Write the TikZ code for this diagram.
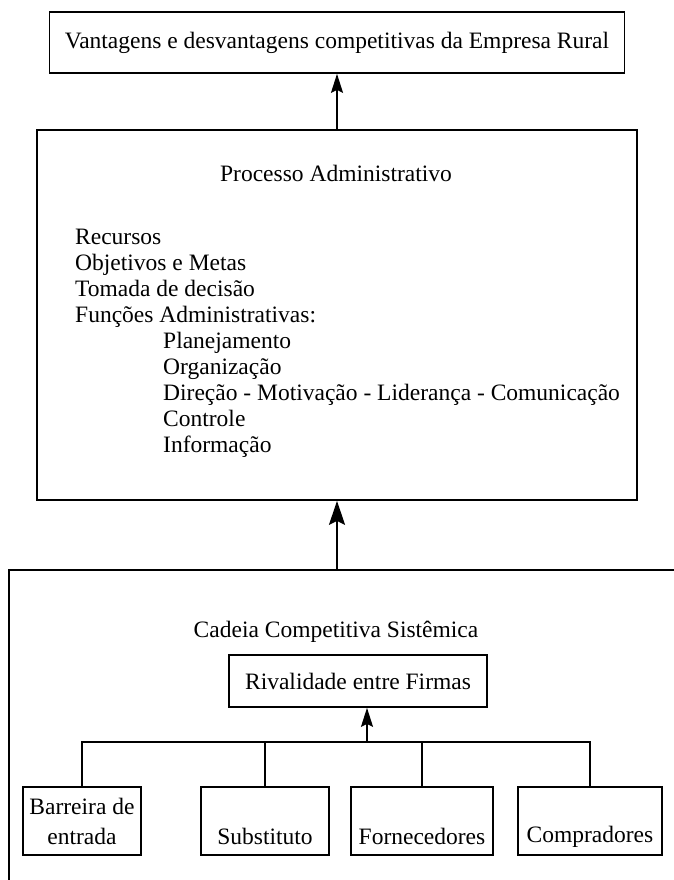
\documentclass[tikz,border=0pt]{standalone}
\usepackage{fontspec}
\setmainfont{Liberation Serif}
\usetikzlibrary{arrows.meta}
\begin{document}
\begin{tikzpicture}[x=1pt,y=-1pt,
  font=\fontsize{23.5}{26}\selectfont,
  box/.style={draw, line width=1.7pt, inner sep=0pt, align=center},
  txt/.style={anchor=base west, inner sep=0pt},
  arr/.style={line width=1.7pt, -{Stealth[length=19pt,width=12pt,inset=3pt]}},
  bigarr/.style={line width=1.7pt, -{Stealth[length=24pt,width=16pt,inset=4pt]}},
  lin/.style={line width=1.7pt}]
\useasboundingbox (0,0) rectangle (674,880);
\clip (0,0) rectangle (674,880);
% top box
\node[box, minimum width=575pt, minimum height=61pt] (top) at (337,42.5) {Vantagens e desvantagens competitivas da Empresa Rural};
% process box
\node[box, minimum width=600pt, minimum height=370pt] (proc) at (337,315) {};
\node[inner sep=0pt] (ptitle) at (336,173) {Processo Administrativo};
\node[txt] (l1) at (75,244) {Recursos};
\node[txt] (l2) at (75,270) {Objetivos e Metas};
\node[txt] (l3) at (75,296) {Tomada de decisão};
\node[txt] (l4) at (75,322) {Funções Administrativas:};
\node[txt] (l5) at (163,348) {Planejamento};
\node[txt] (l6) at (163,374) {Organização};
\node[txt] (l7) at (163,400) {Direção - Motivação - Liderança - Comunicação};
\node[txt] (l8) at (163,426) {Controle};
\node[txt] (l9) at (163,452) {Informação};
% outer box (extends beyond the page)
\node[box, minimum width=691pt, minimum height=330pt] (outer) at (354.5,735) {};
\node[inner sep=0pt] (ctitle) at (336,632) {Cadeia Competitiva Sistêmica};
\node[box, minimum width=258pt, minimum height=52pt] (riv) at (358,681) {Rivalidade entre Firmas};
% bottom boxes
\node[box, minimum width=118pt, minimum height=68pt] (b1) at (82,821) {Barreira de\\[4pt]entrada};
\node[box, minimum width=128pt, minimum height=68pt] (b2) at (265,821) {\strut\\[4pt]Substituto};
\node[box, minimum width=142pt, minimum height=68pt] (b3) at (422,821) {\strut\\[4pt]Fornecedores};
\node[box, minimum width=144pt, minimum height=68pt] (b4) at (590,821) {\strut\\[4pt]Compradores};
% connectors
\draw[arr] (proc.north) -- (top.south);
\draw[bigarr] (proc.south |- outer.north) -- (proc.south);
\coordinate (bus) at (367,742);
\draw[arr] (bus) -- (bus |- riv.south);
\draw[lin] (b1.north) -- (b1.north |- bus) -- (b4.north |- bus) -- (b4.north);
\draw[lin] (b2.north) -- (b2.north |- bus);
\draw[lin] (b3.north) -- (b3.north |- bus);
\end{tikzpicture}
\end{document}
